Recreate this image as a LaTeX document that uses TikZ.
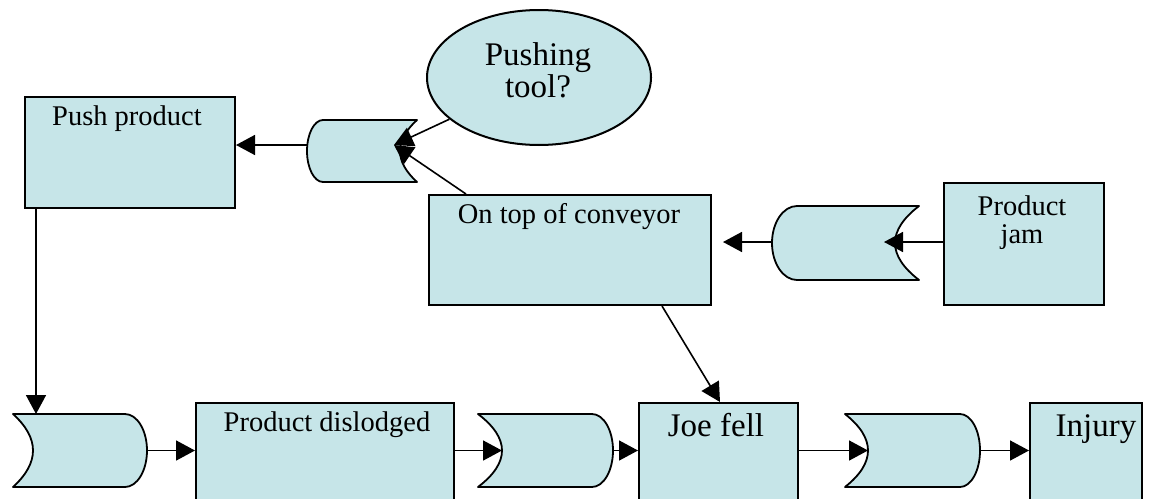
\documentclass[tikz,border=0pt]{standalone}
\usepackage{fontspec}
\setmainfont{Liberation Serif}
\usetikzlibrary{arrows.meta,shapes.geometric,calc}
\definecolor{boxfill}{RGB}{198,229,232}
\tikzset{
  box/.style={draw=black, line width=2pt, fill=boxfill, rectangle, inner sep=0pt, anchor=north west},
  gateshape/.style={draw=black, line width=1.8pt, fill=boxfill, line join=round},
  conn/.style={line width=1.6pt, -{Triangle[length=19pt,width=20pt]}},
  txt/.style={inner sep=0pt, anchor=base, font=\fontsize{28.5}{30}\selectfont},
  bigtxt/.style={inner sep=0pt, anchor=base, font=\fontsize{33}{35}\selectfont},
}
% #1 back x, #2 front x, #3 top y, #4 bottom y, #5 concave depth (signed), #6 front depth (signed), #7 name
\newcommand{\orgate}[7]{%
  \path[gateshape] (#1,#3) -- ({(#2)-(#6)},#3)
    .. controls ({(#2)-(#6)+0.552*(#6)},#3) and (#2,{((#3)+(#4))/2-0.552*((#4)-(#3))/2}) .. (#2,{((#3)+(#4))/2})
    .. controls (#2,{((#3)+(#4))/2+0.552*((#4)-(#3))/2}) and ({(#2)-(#6)+0.552*(#6)},#4) .. ({(#2)-(#6)},#4)
    -- (#1,#4)
    .. controls ({(#1)+4/3*(#5)},{(#4)-2/3*((#4)-(#3))/2}) and ({(#1)+4/3*(#5)},{(#3)+2/3*((#4)-(#3))/2}) .. (#1,#3)
    -- cycle;
  \coordinate (#7in) at ({(#1)+(#5)},{((#3)+(#4))/2});
  \coordinate (#7out) at (#2,{((#3)+(#4))/2});
}
\begin{document}
\begin{tikzpicture}[x=1pt,y=-1pt]
\useasboundingbox (0,0) rectangle (1166,498);
\clip (0,0) rectangle (1166,498);

% boxes
\node[box, minimum width=210pt, minimum height=111pt] (push) at (24,96) {};
\node[box, minimum width=282pt, minimum height=110pt] (conv) at (428,194) {};
\node[box, minimum width=160pt, minimum height=122pt] (jam) at (943,182) {};
\node[box, minimum width=258pt, minimum height=130pt] (disl) at (195,402) {};
\node[box, minimum width=159pt, minimum height=130pt] (joe) at (638,402) {};
\node[box, minimum width=112pt, minimum height=130pt] (inj) at (1029,402) {};
\node[draw=black, line width=2pt, fill=boxfill, ellipse, minimum width=224pt, minimum height=135pt, inner sep=0pt] (ell) at (539,77.5) {};

% texts
\node[txt] (pushT) at (127,125) {Push product};
\node[txt] (convT) at (569,223) {On top of conveyor};
\node[txt] (jamA) at (1022,215) {Product};
\node[txt] (jamB) at (1022,243) {jam};
\node[bigtxt] (ellA) at (538,65) {Pushing};
\node[bigtxt] (ellB) at (538,97) {tool?};
\node[txt] (dislT) at (327,431) {Product dislodged};
\node[bigtxt] (joeT) at (716,436) {Joe fell};
\node[bigtxt] (injT) at (1096,436) {Injury};

% gates
\orgate{417}{307}{120}{182}{-17}{-16}{ga}
\orgate{919}{772}{206}{280}{-24}{-25}{gb}
\orgate{13}{147}{414}{487}{20}{22}{b1}
\orgate{478}{613}{414}{487}{24}{21}{b2}
\orgate{845}{980}{414}{487}{23}{20}{b3}

% helper coordinates
\coordinate (gatip) at (394,145);
\coordinate (gaout2) at (307,145);
\coordinate (gbtip) at (884,242);
\coordinate (gbout2) at (772,242);
\coordinate (convarr) at (723,242);
\coordinate (b1top) at (36,414);

% connectors
\draw[conn] (gaout2) -- (gaout2 -| push.east);
\draw[conn] (ell) -- (gatip);
\draw[conn] ([xshift=38pt]conv.north west) -- (gatip);
\draw[conn] (jam.west |- gbtip) -- (gbtip);
\draw[conn] (gbout2) -- (convarr);
\draw[conn] (b1top |- push.south) -- (b1top);
\draw[conn] (b1out) -- (disl.west |- b1out);
\draw[conn] (disl.east |- b2in) -- (b2in);
\draw[conn] (b2out) -- (joe.west |- b2out);
\draw[conn] (joe.east |- b3in) -- (b3in);
\draw[conn] (b3out) -- (inj.west |- b3out);
\draw[conn] ([xshift=234pt]conv.south west) -- ([xshift=82pt]joe.north west);
\end{tikzpicture}
\end{document}
